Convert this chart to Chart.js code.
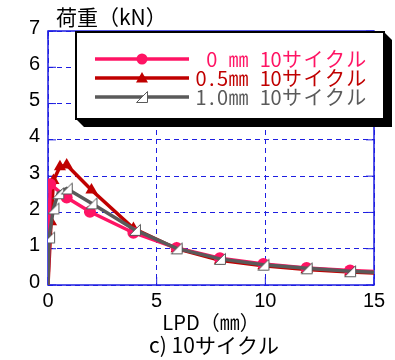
<!DOCTYPE html>
<html>
<head>
<meta charset="utf-8">
<script src="https://cdn.jsdelivr.net/npm/chart.js@4/dist/chart.umd.min.js"></script>
<style>
  html, body { margin: 0; padding: 0; background: #fff; }
  #wrap { width: 395px; height: 360px; position: relative; }
</style>
</head>
<body>
<div id="wrap"><canvas id="c" width="395" height="360"></canvas></div>
<script>
// Load–displacement curves after 10 cycles, three initial gaps
const seriesNames = ['0 ㎜ 10サイクル', '0.5㎜ 10サイクル', '1.0㎜ 10サイクル'];

const lpd0  = [0, 0.10, 0.86, 1.93, 3.93, 5.92, 7.91, 9.91, 11.9, 13.9, 15];
const load0 = [0, 2.78, 2.41, 2.02, 1.44, 1.02, 0.74, 0.58, 0.47, 0.40, 0.37];

const lpd05  = [0, 0.14, 0.25, 0.55, 0.86, 2.00, 3.93, 5.92, 7.91, 9.91, 11.9, 13.9, 15];
const load05 = [0, 1.74, 2.88, 3.26, 3.31, 2.62, 1.56, 1.00, 0.68, 0.53, 0.43, 0.36, 0.33];

const lpd10  = [0, 0.05, 0.25, 0.47, 0.86, 2.00, 4.00, 5.92, 7.91, 9.91, 11.9, 13.9, 15];
const load10 = [0, 1.31, 2.11, 2.53, 2.66, 2.25, 1.52, 1.01, 0.72, 0.56, 0.46, 0.38, 0.35];

const xTicks = [0, 5, 10, 15];
const yTicks = [0, 1, 2, 3, 4, 5, 6, 7];

const PINK = '#ff1464';
const RED  = '#c00000';
const GRAY = '#5a5a5a';
const BLUE = 'rgb(30,30,225)';
const JP = '"Noto Sans CJK JP", sans-serif';

const toPoints = (xs, ys) => xs.map((x, i) => ({ x, y: ys[i] }));

// hollow right-angled triangle marker
function makeWedge(size) {
  const cv = document.createElement('canvas');
  cv.width = size; cv.height = size;
  const g = cv.getContext('2d');
  g.fillStyle = '#fff';
  g.strokeStyle = GRAY;
  g.lineWidth = 1;
  g.beginPath();
  g.moveTo(size - 1.5, 1.5);
  g.lineTo(size - 1.5, size - 1.5);
  g.lineTo(1.5, size - 1.5);
  g.closePath();
  g.fill();
  g.stroke();
  return cv;
}
const wedge = makeWedge(14);

function radii(n) {
  const r = new Array(n).fill(1);
  r[0] = 0; r[n - 1] = 0;
  return r;
}

// draws text on a fixed half-width grid, full-width glyphs take two cells
function drawMono(ctx, text, rightX, y, cell) {
  const chars = Array.from(text);
  const widths = chars.map(ch => ch.charCodeAt(0) > 0x2000 ? 2 : 1);
  const total = widths.reduce((a, b) => a + b, 0);
  let x = rightX - total * cell;
  ctx.textAlign = 'center';
  chars.forEach((ch, i) => {
    const w = widths[i] * cell;
    if (ch !== ' ') ctx.fillText(ch, x + w / 2, y);
    x += w;
  });
}

const framePlugin = {
  id: 'frame',
  beforeDatasetsDraw(chart) {
    const { ctx, chartArea: a, scales } = chart;
    ctx.save();
    ctx.strokeStyle = BLUE;
    ctx.lineWidth = 1.5;
    ctx.setLineDash([]);
    ctx.strokeRect(a.left, a.top, a.right - a.left, a.bottom - a.top);
    ctx.lineWidth = 1;
    const t = 8;
    ctx.beginPath();
    yTicks.forEach(v => {
      const py = scales.y.getPixelForValue(v);
      ctx.moveTo(a.left, py); ctx.lineTo(a.left + t, py);
      ctx.moveTo(a.right, py); ctx.lineTo(a.right - t, py);
    });
    xTicks.forEach(v => {
      const px = scales.x.getPixelForValue(v);
      ctx.moveTo(px, a.bottom); ctx.lineTo(px, a.bottom - t);
      ctx.moveTo(px, a.top); ctx.lineTo(px, a.top + t);
    });
    ctx.stroke();
    ctx.restore();
  },
  afterDraw(chart) {
    const { ctx } = chart;
    ctx.save();
    ctx.fillStyle = '#000';
    ctx.font = '21px ' + JP;
    ctx.textBaseline = 'middle';
    ctx.textAlign = 'left';
    ctx.fillText('荷重（kN）', 56, 17);
    ctx.font = '21px ' + JP;
    ctx.textAlign = 'center';
    ctx.fillText('c) 10サイクル', 214, 345);

    // legend box with drop shadow
    const L = 76, T = 32, R = 384, B = 119, S = 8;
    ctx.fillStyle = '#000';
    ctx.beginPath();
    ctx.moveTo(L, B);
    ctx.lineTo(L + S, B + S);
    ctx.lineTo(R + S, B + S);
    ctx.lineTo(R + S, T + S);
    ctx.lineTo(R, T);
    ctx.closePath();
    ctx.fill();
    ctx.fillStyle = '#fff';
    ctx.fillRect(L, T, R - L, B - T);
    ctx.strokeStyle = '#000';
    ctx.lineWidth = 2;
    ctx.strokeRect(L, T, R - L, B - T);

    const colors = [PINK, RED, GRAY];
    const rows = [59, 78, 97];
    rows.forEach((ry, i) => {
      ctx.strokeStyle = colors[i];
      ctx.lineWidth = 3.5;
      ctx.beginPath();
      ctx.moveTo(95, ry); ctx.lineTo(189, ry);
      ctx.stroke();
      const mx = 142;
      if (i === 0) {
        ctx.fillStyle = PINK;
        ctx.beginPath(); ctx.arc(mx, ry, 5.5, 0, Math.PI * 2); ctx.fill();
      } else if (i === 1) {
        ctx.fillStyle = RED;
        ctx.beginPath();
        ctx.moveTo(mx, ry - 6); ctx.lineTo(mx + 6, ry + 4.5); ctx.lineTo(mx - 6, ry + 4.5);
        ctx.closePath(); ctx.fill();
      } else {
        ctx.drawImage(wedge, mx - 7, ry - 7);
      }
      ctx.fillStyle = colors[i];
      ctx.font = '20px ' + JP;
      ctx.textBaseline = 'middle';
      drawMono(ctx, seriesNames[i], 367, ry, 10.7);
    });
    ctx.restore();
  }
};

new Chart(document.getElementById('c'), {
  type: 'scatter',
  data: {
    datasets: [
      {
        label: seriesNames[0],
        data: toPoints(lpd0, load0),
        showLine: true,
        borderColor: PINK,
        backgroundColor: PINK,
        borderWidth: 3.5,
        pointStyle: 'circle',
        pointRadius: radii(lpd0.length).map(v => v * 6),
        pointBorderWidth: 0,
        order: 1
      },
      {
        label: seriesNames[1],
        data: toPoints(lpd05, load05),
        showLine: true,
        borderColor: RED,
        backgroundColor: RED,
        borderWidth: 3.5,
        pointStyle: 'triangle',
        pointRadius: radii(lpd05.length).map(v => v * 7),
        pointBorderWidth: 0,
        order: 2
      },
      {
        label: seriesNames[2],
        data: toPoints(lpd10, load10),
        showLine: true,
        borderColor: GRAY,
        backgroundColor: '#fff',
        borderWidth: 3.5,
        pointStyle: lpd10.map((_, i) => (i === 0 || i === lpd10.length - 1) ? false : wedge),
        pointRadius: radii(lpd10.length).map(v => v * 7),
        order: 0
      }
    ]
  },
  options: {
    responsive: false,
    animation: false,
    events: [],
    layout: { padding: { left: 0, top: 31, right: 21, bottom: 0 } },
    plugins: { legend: { display: false }, tooltip: { enabled: false }, title: { display: false } },
    scales: {
      x: {
        type: 'linear',
        min: 0, max: 15,
        afterFit(s) { s.height = 75; },
        afterBuildTicks(s) { s.ticks = xTicks.map(v => ({ value: v })); },
        grid: { color: BLUE, lineWidth: 1, drawTicks: false },
        border: { display: false, dash: [5, 4] },
        ticks: { color: '#000', padding: 4, font: { family: '"Liberation Sans", Arial, sans-serif', size: 20 }, maxRotation: 0 },
        title: { display: true, text: 'LPD（㎜）', color: '#000', font: { family: JP, size: 20 }, padding: { top: 0, bottom: 26 } }
      },
      y: {
        type: 'linear',
        min: 0, max: 7,
        afterFit(s) { s.width = 48; },
        afterBuildTicks(s) { s.ticks = yTicks.map(v => ({ value: v })); },
        grid: { color: BLUE, lineWidth: 1, drawTicks: false },
        border: { display: false, dash: [5, 4] },
        ticks: { color: '#000', padding: 8, labelOffset: -3, font: { family: '"Liberation Sans", Arial, sans-serif', size: 20 } }
      }
    }
  },
  plugins: [framePlugin]
});
</script>
</body>
</html>
